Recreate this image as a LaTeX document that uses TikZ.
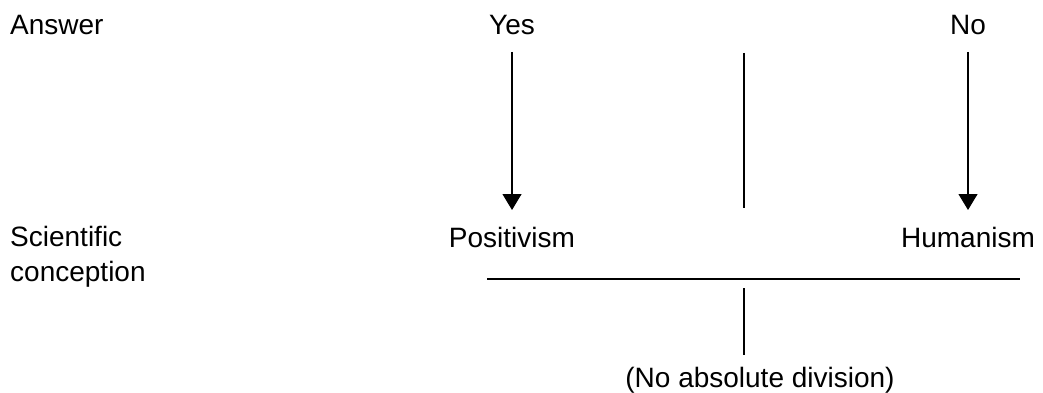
\documentclass[tikz,border=0pt]{standalone}
\usepackage{fontspec}
\setmainfont{Liberation Sans}
\usetikzlibrary{arrows.meta}
\begin{document}
\begin{tikzpicture}[x=1pt,y=-1pt,
  lbl/.style={inner sep=0pt,font=\fontsize{28}{34}\selectfont},
  ln/.style={line width=1.2pt,black},
  arr/.style={ln,-{Triangle[width=19pt,length=16pt]}}]
\useasboundingbox (0,0) rectangle (1043,393);
\node[lbl,anchor=base west] (answer) at (10,35) {Answer};
\node[lbl,anchor=base] (yes) at (512,35) {Yes};
\node[lbl,anchor=base] (no) at (968,35) {No};
\node[lbl,anchor=base west] (sci) at (10,246) {Scientific};
\node[lbl,anchor=base west] (conc) at (10,281) {conception};
\node[lbl,anchor=base] (pos) at (512,247) {Positivism};
\node[lbl,anchor=base] (hum) at (968,247) {Humanism};
\node[lbl,anchor=base] (nad) at (760,387) {(No absolute division)};
\coordinate (yesS) at (512,52);
\coordinate (posN) at (512,210);
\coordinate (noS) at (968,52);
\coordinate (humN) at (968,210);
\coordinate (midT) at (744,53);
\coordinate (midB) at (744,208);
\coordinate (hL) at (487,279);
\coordinate (hR) at (1020,279);
\coordinate (lowT) at (744,288);
\coordinate (lowB) at (744,355);
\draw[arr] (yesS) -- (posN);
\draw[arr] (noS) -- (humN);
\draw[ln] (midT) -- (midB);
\draw[ln] (hL) -- (hR);
\draw[ln] (lowT) -- (lowB);
\end{tikzpicture}
\end{document}
